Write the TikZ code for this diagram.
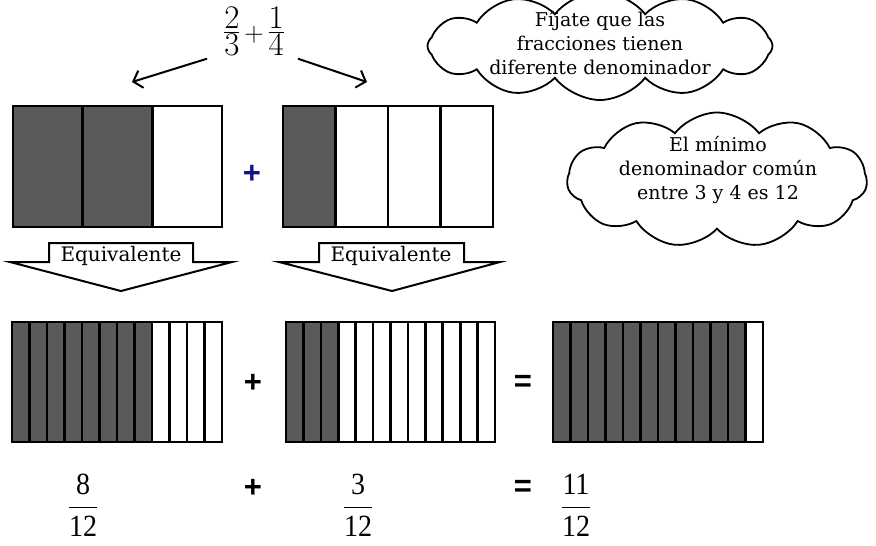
\RequirePackage{fix-cm}
\documentclass[tikz,border=0pt]{standalone}
\usepackage{amsmath}
\usepackage{fontspec}
\usepackage{xcolor}
\usetikzlibrary{positioning,arrows.meta,calc,shapes.symbols}
\newfontfamily\notefont{DejaVu Serif}
\newfontfamily\fracfont{Liberation Serif}
\newfontfamily\signfont{Liberation Sans}
\definecolor{barfill}{RGB}{90,90,90}
\definecolor{plusblue}{RGB}{20,20,140}

\begin{document}
\begin{tikzpicture}[x=1pt, y=-1pt,
		strip/.style={draw, line width=2.6pt},
		arr/.style={-{Straight Barb[length=8pt, width=18pt]}, line width=2pt},
		eqarrow/.style={draw, line width=2pt, line join=miter, fill=white},
		eqtxt/.style={font=\notefont\fontsize{20}{22}\selectfont, inner sep=0pt},
		thought/.style={cloud, cloud puff arc=105, cloud ignores aspect,
			draw, line width=1.8pt, inner sep=0pt},
		notetxt/.style={align=center, font=\notefont\fontsize{19}{24}\selectfont},
		sumsign/.style={font=\signfont\bfseries\fontsize{31}{31}\selectfont, inner sep=0pt},
		bigfrac/.style={anchor=base, inner sep=0pt, font=\fracfont\fontsize{28}{30}\selectfont},
		topfrac/.style={anchor=base, inner sep=0pt, font=\fontsize{33}{34}\selectfont}
		]
		\useasboundingbox (0,0) rectangle (876,546);
		\node[topfrac] (sum) at (254,41)
		{$\frac{\textstyle 2}{\textstyle 3}\mkern2mu\raisebox{0pt}{\fontsize{27}{27}\selectfont +}\mkern2mu\frac{\textstyle 1}{\textstyle 4}$};
		\coordinate (toA) at (132,82);
		\coordinate (toB) at (367,82);
		\draw[arr] ([xshift=-47pt,yshift=-3pt]sum.south) -- (toA);
		\draw[arr] ([xshift=44pt,yshift=-3pt]sum.south) -- (toB);
		\foreach \i in {0,1,2}{
			\ifnum\i<2 \def\c{barfill}\else\def\c{white}\fi
			\draw[strip, fill=\c] (13+\i*69.67,106) rectangle ++(69.67,121);
		}
		\foreach \i in {0,...,3}{
			\ifnum\i<1 \def\c{barfill}\else\def\c{white}\fi
			\draw[strip, fill=\c] (283+\i*52.5,106) rectangle ++(52.5,121);
		}
		\node[sumsign, text=plusblue] (plusA) at (252,174) {+};
		\draw[eqarrow] (49,262) -- (49,243) -- (193,243) -- (193,262) -- (232,262)
		-- (121,291) -- (10,262) -- cycle;
		\node[eqtxt] (eqA) at (121,256) {Equivalente};
		\draw[eqarrow] (319,262) -- (319,243) -- (464,243) -- (464,262) -- (500,262)
		-- (392,291) -- (279,262) -- cycle;
		\node[eqtxt] (eqB) at (391,256) {Equivalente};
		\foreach \i in {0,...,11}{
			\ifnum\i<8 \def\c{barfill}\else\def\c{white}\fi
			\draw[strip, fill=\c] (12+\i*17.5,322) rectangle ++(17.5,120);
			\ifnum\i<3 \def\c{barfill}\else\def\c{white}\fi
			\draw[strip, fill=\c] (286+\i*17.42,322) rectangle ++(17.42,120);
			\ifnum\i<11 \def\c{barfill}\else\def\c{white}\fi
			\draw[strip, fill=\c] (553+\i*17.5,322) rectangle ++(17.5,120);
		}
		\node[sumsign] (plusB) at (253,383) {+};
		\node[sumsign] (isB) at (523,383) {=};
		\node[bigfrac] (eightA) at (83,515) {\scalebox{1}[1.1]{$\dfrac{\text{8}}{\text{12}}$}};
		\node[sumsign] (plusC) at (253,488) {+};
		\node[bigfrac] (threeB) at (358,515) {\scalebox{1}[1.1]{$\dfrac{\text{3}}{\text{12}}$}};
		\node[sumsign] (isC) at (523,488) {=};
		\node[bigfrac] (elevenC) at (576,515) {\scalebox{1}[1.1]{$\dfrac{\text{11}}{\text{12}}$}};
		\node[thought, cloud puffs=12, minimum width=345pt, minimum height=108pt] (noteA) at (600,46) {};
		\node[notetxt] (noteAtxt) at (600,43) {Fíjate que las\\fracciones tienen\\diferente denominador};
		\node[thought, cloud puffs=11, minimum width=300pt, minimum height=135pt] (noteB) at (717,180) {};
		\node[notetxt] (noteBtxt) at (718,170) {El mínimo\\denominador común\\entre 3 y 4 es 12};
	\end{tikzpicture}
\end{document}
